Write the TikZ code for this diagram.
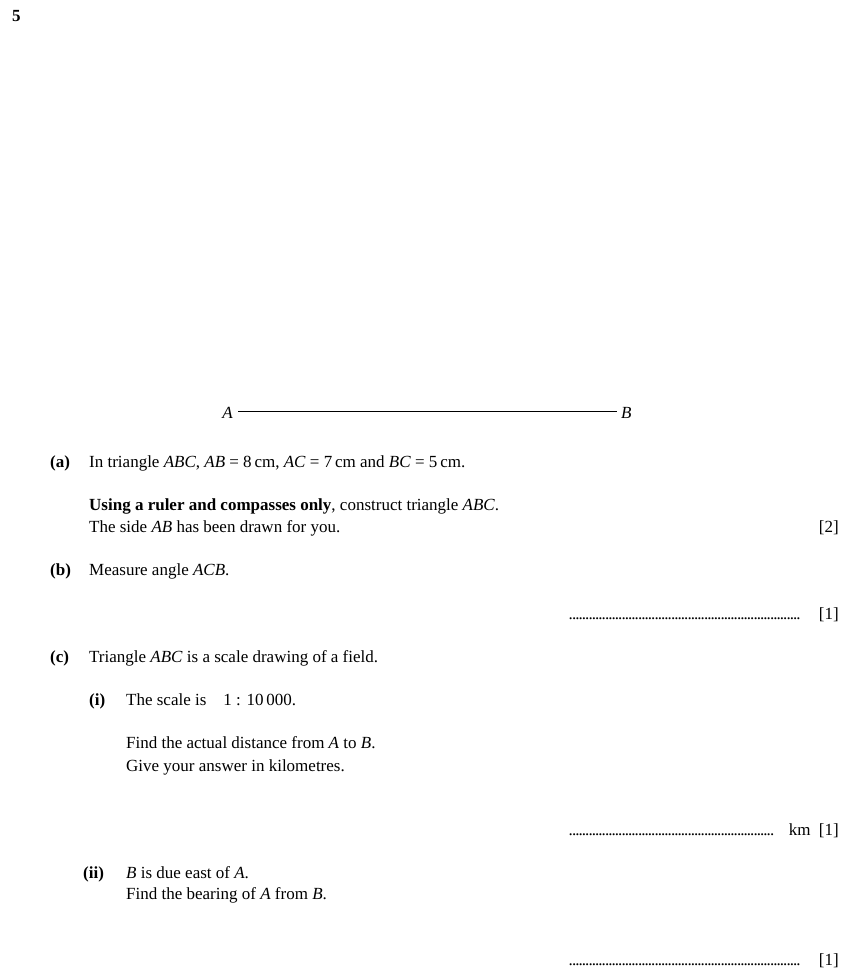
\documentclass[tikz,border=0pt]{standalone}
\usepackage{fontspec}
\setmainfont{Liberation Serif}
\newcommand{\dotsto}[1]{\hbox to #1{\leaders\hbox to 3.3pt{\hss.\hss}\hfill}}
\begin{document}
\begin{tikzpicture}[x=1pt,y=-1pt,
  txt/.style={anchor=base west,inner sep=0pt,font=\fontsize{17}{20}\selectfont},
  rt/.style={anchor=base east,inner sep=0pt,font=\fontsize{17}{20}\selectfont}]
\useasboundingbox (0,0) rectangle (853,970);
\node[txt] (n5) at (12,21) {\textbf{5}};
\node[txt,anchor=base east] (A) at (233,418) {\textit{A}};
\node[txt] (B) at (621,418) {\textit{B}};
\draw[line width=0.8pt] (238,411) coordinate (a0) -- (617,411) coordinate (b0);
\node[txt] (pa) at (50,467) {\textbf{(a)}};
\node[txt] (ta) at (89,467) {In triangle \textit{ABC}, \textit{AB} = 8\,cm, \textit{AC} = 7\,cm and \textit{BC} = 5\,cm.};
\node[txt] (ta2) at (89,510) {\textbf{Using a ruler and compasses only}, construct triangle \textit{ABC}.};
\node[txt] (ta3) at (89,532) {The side \textit{AB} has been drawn for you.};
\node[rt] (m2) at (839,532) {[2]};
\node[txt] (pb) at (50,575) {\textbf{(b)}};
\node[txt] (tb) at (89,575) {Measure angle \textit{ACB}.};
\node[txt] (db) at (569,619) {\dotsto{234pt}};
\node[rt] (m1b) at (839,619) {[1]};
\node[txt] (pc) at (50,662) {\textbf{(c)}};
\node[txt] (tc) at (89,662) {Triangle \textit{ABC} is a scale drawing of a field.};
\node[txt] (pi) at (89,705) {\textbf{(i)}};
\node[txt] (ti) at (126,705) {The scale is\quad 1 : 10\,000.};
\node[txt] (ti2) at (126,748) {Find the actual distance from \textit{A} to \textit{B}.};
\node[txt] (ti3) at (126,771) {Give your answer in kilometres.};
\node[txt] (di) at (569,835) {\dotsto{205pt}};
\node[rt] (m1i) at (839,835) {km\enspace[1]};
\node[txt] (pii) at (83,878) {\textbf{(ii)}};
\node[txt] (tii) at (126,878) {\textit{B} is due east of \textit{A}.};
\node[txt] (tii2) at (126,899) {Find the bearing of \textit{A} from \textit{B}.};
\node[txt] (dii) at (569,965) {\dotsto{234pt}};
\node[rt] (m1ii) at (839,965) {[1]};
\end{tikzpicture}
\end{document}
